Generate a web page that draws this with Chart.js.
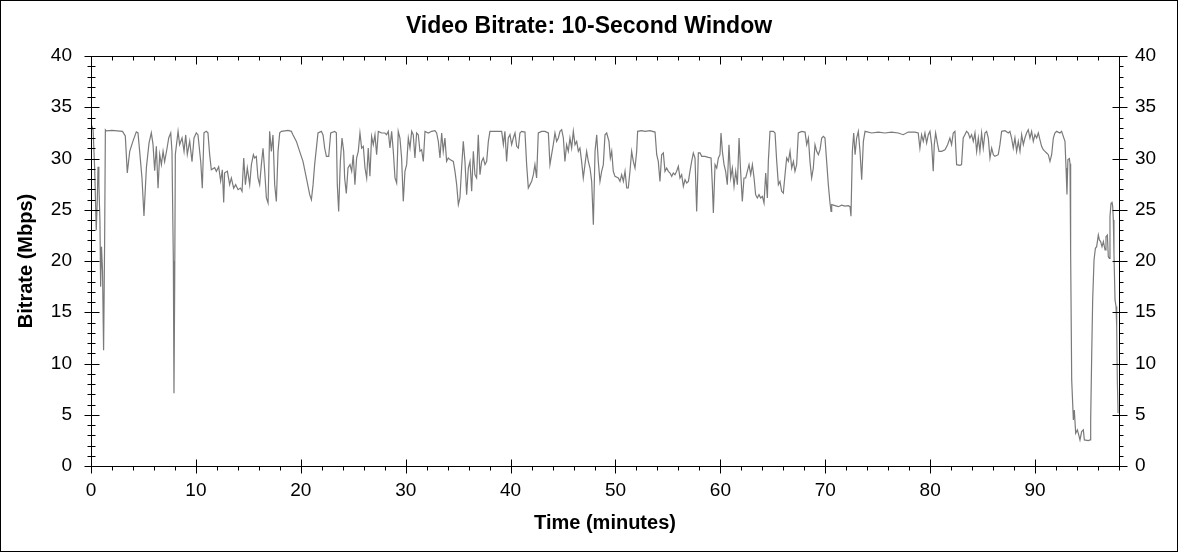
<!DOCTYPE html>
<html>
<head>
<meta charset="utf-8">
<title>Video Bitrate: 10-Second Window</title>
<script src="https://cdn.jsdelivr.net/npm/chart.js@4.4.0/dist/chart.umd.min.js"></script>
<style>
  html, body { margin: 0; padding: 0; background: #fff; }
  #wrap { position: relative; width: 1178px; height: 552px; }
</style>
</head>
<body>
<div id="wrap"><canvas id="bitrateChart" width="1178" height="552"></canvas></div>
<script>
// Time axis (minutes) and bitrate readings (Mbps)
const minutes = [
  0.0, 0.1, 0.2, 0.35, 0.5, 0.6, 0.67, 0.75, 0.85, 0.92, 1.0, 1.1, 1.2, 1.3, 1.37,
  1.46, 2.0, 2.5, 3.0, 3.27, 3.46, 3.69, 4.0, 4.32, 4.48, 4.64, 4.86, 5.05, 5.28, 5.53,
  5.75, 5.91, 6.07, 6.23, 6.39, 6.55, 6.71, 6.87, 7.02, 7.25, 7.41, 7.6, 7.72, 7.85, 7.91,
  7.98, 8.04, 8.3, 8.45, 8.68, 8.87, 9.03, 9.18, 9.41, 9.63, 9.82, 10.04, 10.2, 10.46, 10.61,
  10.77, 10.99, 11.15, 11.31, 11.47, 11.79, 11.95, 12.17, 12.36, 12.52, 12.65, 12.74, 13.0, 13.22, 13.38,
  13.6, 13.79, 14.02, 14.24, 14.4, 14.56, 14.72, 14.9, 15.13, 15.29, 15.48, 15.6, 15.76, 15.92, 16.08,
  16.24, 16.4, 16.56, 16.72, 16.88, 17.03, 17.19, 17.35, 17.51, 17.67, 17.83, 17.99, 18.15, 18.78, 19.1,
  19.26, 19.58, 19.89, 20.21, 20.53, 20.85, 21.01, 21.17, 21.32, 21.64, 21.96, 22.12, 22.28, 22.44, 22.66,
  22.85, 23.23, 23.39, 23.48, 23.61, 23.77, 23.93, 24.09, 24.18, 24.34, 24.5, 24.69, 24.85, 25.0, 25.16,
  25.32, 25.48, 25.64, 25.8, 25.96, 26.12, 26.28, 26.43, 26.59, 26.75, 26.91, 27.07, 27.23, 27.39, 27.71,
  28.02, 28.18, 28.34, 28.5, 28.66, 28.82, 28.98, 29.14, 29.29, 29.45, 29.61, 29.77, 29.93, 30.09, 30.25,
  30.41, 30.57, 30.72, 30.88, 31.04, 31.2, 31.36, 31.52, 31.68, 31.84, 32.16, 32.47, 32.79, 32.95, 33.11,
  33.27, 33.43, 33.58, 33.74, 33.9, 34.06, 34.22, 34.54, 34.7, 34.86, 35.02, 35.17, 35.33, 35.49, 35.65,
  35.81, 35.97, 36.13, 36.29, 36.45, 36.6, 36.76, 36.92, 37.08, 37.24, 37.4, 37.56, 37.72, 37.88, 38.03,
  38.51, 38.99, 39.15, 39.31, 39.46, 39.62, 39.78, 39.94, 40.1, 40.26, 40.42, 40.58, 40.74, 40.89, 41.05,
  41.37, 41.53, 41.69, 41.85, 42.01, 42.17, 42.32, 42.48, 42.64, 42.96, 43.28, 43.6, 43.75, 43.91, 44.07,
  44.23, 44.39, 44.55, 44.71, 44.87, 45.03, 45.18, 45.34, 45.5, 45.66, 45.82, 45.98, 46.14, 46.3, 46.46,
  46.61, 46.77, 46.93, 47.09, 47.25, 47.41, 47.57, 47.73, 47.89, 48.05, 48.21, 48.36, 48.52, 48.68, 48.84,
  49.0, 49.16, 49.38, 49.51, 49.64, 49.79, 49.95, 50.27, 50.43, 50.59, 50.75, 50.91, 51.07, 51.22, 51.38,
  51.54, 51.7, 51.86, 52.02, 52.11, 52.5, 52.81, 53.29, 53.77, 53.93, 54.08, 54.24, 54.4, 54.56, 54.72,
  54.88, 55.04, 55.2, 55.36, 55.51, 55.67, 55.83, 55.99, 56.15, 56.31, 56.47, 56.63, 56.79, 56.95, 57.1,
  57.26, 57.42, 57.58, 57.74, 57.9, 58.06, 58.22, 58.53, 58.85, 59.11, 59.23, 59.33, 59.49, 59.65, 59.81,
  59.96, 60.06, 60.19, 60.35, 60.5, 60.66, 60.82, 60.98, 61.14, 61.3, 61.46, 61.62, 61.78, 61.93, 62.09,
  62.25, 62.41, 62.57, 62.73, 62.89, 63.05, 63.21, 63.36, 63.52, 63.68, 63.84, 64.0, 64.16, 64.32, 64.48,
  64.57, 64.73, 65.05, 65.21, 65.37, 65.53, 65.68, 65.84, 66.0, 66.16, 66.32, 66.48, 66.64, 66.8, 66.96,
  67.11, 67.27, 67.43, 67.75, 68.07, 68.23, 68.39, 68.54, 68.7, 68.86, 69.02, 69.18, 69.34, 69.5, 69.66,
  69.82, 69.97, 70.13, 70.29, 70.45, 70.55, 70.61, 70.93, 71.25, 71.56, 71.88, 72.2, 72.36, 72.45, 72.58,
  72.71, 72.84, 72.99, 73.15, 73.31, 73.47, 73.63, 73.79, 74.42, 75.05, 75.69, 76.32, 76.96, 77.43, 77.91,
  78.55, 78.86, 79.02, 79.18, 79.34, 79.5, 79.66, 79.82, 79.98, 80.14, 80.29, 80.39, 80.52, 80.71, 80.84,
  81.09, 81.41, 81.66, 81.88, 82.04, 82.2, 82.36, 82.52, 82.84, 82.99, 83.15, 83.31, 83.47, 83.63, 83.79,
  83.95, 84.11, 84.27, 84.43, 84.59, 84.74, 84.9, 85.06, 85.22, 85.38, 85.54, 85.7, 85.86, 86.02, 86.17,
  86.49, 86.65, 86.81, 87.13, 87.45, 87.6, 87.76, 87.92, 88.08, 88.24, 88.4, 88.56, 88.72, 88.88, 89.03,
  89.19, 89.35, 89.51, 89.67, 89.83, 89.99, 90.15, 90.31, 90.46, 90.62, 90.78, 90.94, 91.1, 91.26, 91.42,
  91.58, 91.74, 91.89, 92.05, 92.37, 92.53, 92.69, 92.85, 92.95, 93.04, 93.13, 93.27, 93.33, 93.39, 93.49,
  93.65, 93.74, 93.87, 94.03, 94.16, 94.28, 94.44, 94.6, 94.7, 95.08, 95.24, 95.3, 95.4, 95.49, 95.62,
  95.75, 95.87, 96.03, 96.13, 96.25, 96.38, 96.51, 96.67, 96.76, 96.89, 96.98, 97.08, 97.14, 97.24, 97.33,
  97.4, 97.46, 97.52, 97.62, 97.72, 97.78, 97.84, 97.91
];

const mbps = [
  32.6, 33.1, 32.8, 29.0, 23.0, 26.0, 29.2, 27.5, 24.0, 17.5, 21.4, 19.0, 11.3, 22.0, 32.8,
  32.7, 32.75, 32.7, 32.65, 32.2, 28.6, 30.7, 31.7, 32.6, 32.5, 30.7, 28.1, 24.4, 29.1, 31.5,
  32.5, 31.4, 28.8, 31.2, 27.1, 30.4, 29.4, 30.7, 29.7, 31.0, 32.0, 32.5, 30.7, 20.0, 7.1,
  18.0, 30.4, 32.65, 31.35, 32.0, 30.7, 32.3, 30.4, 31.7, 29.7, 32.0, 32.5, 32.3, 29.7, 27.1,
  32.5, 32.65, 32.5, 30.4, 28.9, 29.1, 28.75, 29.2, 27.8, 28.9, 25.7, 28.6, 28.75, 27.45, 28.1,
  27.1, 27.45, 26.96, 27.12, 26.8, 30.05, 27.45, 29.07, 27.45, 29.4, 30.37, 30.05, 30.2, 28.1, 27.45,
  29.4, 31.0, 28.75, 26.15, 25.66, 32.65, 30.7, 32.3, 27.45, 25.8, 30.7, 32.5, 32.65, 32.75, 32.65,
  32.3, 31.67, 30.7, 29.72, 28.1, 26.47, 25.98, 27.45, 29.4, 32.5, 32.65, 32.3, 31.0, 30.2, 30.2,
  32.5, 32.65, 32.5, 27.45, 24.84, 29.72, 32.0, 30.7, 28.1, 26.6, 29.07, 29.4, 28.75, 30.37, 27.45,
  30.05, 30.7, 32.49, 31.02, 31.19, 29.07, 28.1, 31.02, 28.26, 32.16, 31.35, 32.32, 30.37, 32.65, 32.49,
  32.49, 32.32, 32.65, 31.02, 32.65, 30.7, 28.1, 27.61, 32.65, 32.0, 30.05, 25.82, 28.75, 29.4, 32.0,
  31.02, 32.65, 32.32, 30.05, 32.49, 32.32, 30.7, 30.86, 29.72, 32.65, 32.49, 32.65, 32.71, 32.49, 31.67,
  30.05, 32.49, 30.7, 32.0, 29.72, 30.05, 29.89, 29.72, 28.75, 27.45, 25.5, 26.15, 29.07, 31.67, 29.72,
  26.47, 29.07, 29.72, 26.8, 30.7, 28.42, 28.1, 32.32, 28.42, 29.72, 30.05, 29.4, 29.72, 31.67, 32.65,
  32.65, 32.65, 32.65, 31.35, 32.65, 29.72, 32.0, 32.32, 31.35, 32.0, 32.49, 31.19, 31.02, 32.49, 32.65,
  32.58, 29.4, 27.12, 27.45, 27.77, 28.42, 29.4, 28.1, 32.49, 32.65, 32.65, 32.49, 29.4, 30.37, 31.35,
  32.49, 31.67, 32.0, 32.65, 32.81, 32.0, 29.72, 31.35, 30.7, 32.0, 31.02, 32.65, 31.35, 31.67, 30.7,
  31.02, 29.72, 28.1, 29.4, 30.7, 29.72, 29.07, 27.77, 23.54, 30.7, 32.32, 29.72, 27.77, 28.75, 29.4,
  32.32, 32.49, 31.67, 30.05, 30.7, 28.75, 28.26, 28.1, 27.77, 28.42, 27.77, 28.75, 27.12, 27.12, 28.75,
  30.7, 29.72, 29.07, 30.7, 32.65, 32.71, 32.65, 32.71, 32.58, 30.37, 29.72, 27.77, 30.37, 30.54, 28.75,
  29.07, 28.75, 28.58, 28.26, 28.58, 28.42, 28.75, 29.23, 28.1, 28.42, 27.28, 27.93, 27.61, 27.77, 28.75,
  29.72, 30.54, 30.05, 24.84, 30.54, 30.54, 30.21, 30.21, 30.11, 30.05, 27.45, 24.68, 29.4, 29.07, 30.05,
  30.37, 32.49, 30.7, 29.4, 28.75, 27.45, 31.35, 28.1, 29.07, 27.28, 28.75, 27.45, 32.0, 28.75, 25.82,
  28.1, 28.1, 28.75, 29.4, 28.42, 29.4, 28.1, 26.47, 26.15, 26.47, 26.15, 26.31, 25.66, 28.58, 26.15,
  29.72, 32.65, 32.65, 32.49, 29.72, 27.45, 27.77, 26.8, 26.63, 28.42, 30.05, 29.72, 30.7, 29.07, 29.72,
  28.75, 29.4, 32.49, 32.65, 32.58, 31.35, 32.0, 29.72, 28.1, 29.07, 31.35, 30.7, 30.37, 30.86, 32.0,
  32.16, 32.0, 29.72, 27.45, 25.66, 24.84, 25.5, 25.4, 25.3, 25.45, 25.35, 25.4, 25.3, 24.36, 30.7,
  32.49, 30.37, 32.0, 32.65, 30.7, 27.93, 31.67, 32.65, 32.49, 32.58, 32.49, 32.58, 32.49, 32.32, 32.58,
  32.58, 32.49, 31.02, 32.32, 31.67, 32.49, 31.51, 32.32, 32.65, 31.35, 28.75, 31.35, 32.49, 31.35, 30.7,
  30.7, 30.86, 31.35, 32.0, 31.35, 32.49, 32.65, 29.4, 29.33, 29.4, 32.0, 32.32, 32.65, 32.49, 32.0,
  32.32, 31.67, 32.49, 30.7, 32.0, 30.7, 32.49, 31.02, 32.49, 32.65, 32.0, 30.05, 31.02, 30.37, 30.21,
  30.37, 31.35, 32.65, 32.71, 32.49, 32.65, 32.0, 31.02, 32.0, 30.7, 31.67, 30.7, 32.32, 31.35, 32.0,
  32.49, 32.81, 32.0, 32.65, 31.67, 32.32, 32.0, 32.49, 31.84, 31.19, 30.86, 30.7, 30.54, 30.37, 29.72,
  30.37, 32.0, 32.49, 32.65, 32.49, 32.65, 32.16, 31.67, 29.07, 26.5, 29.9, 30.0, 29.5, 20.75, 8.4,
  4.49, 5.47, 3.2, 3.52, 3.03, 2.54, 3.35, 3.52, 2.54, 2.48, 2.54, 4.49, 10.98, 16.2, 20.1,
  21.24, 21.4, 22.54, 22.05, 21.89, 21.4, 21.89, 21.08, 22.38, 22.54, 20.43, 20.26, 24.33, 25.63, 25.79,
  25.3, 24.0, 20.75, 16.2, 15.55, 13.6, 8.4, 5.14
];

// Axis ticks
const xTickValues = [0, 10, 20, 30, 40, 50, 60, 70, 80, 90];
const yTickValues = [0, 5, 10, 15, 20, 25, 30, 35, 40];
const xMinorStep = 2;
const yMinorStep = 1;

const fontFamily = '"Liberation Sans", Arial, sans-serif';

// Outer frame, plot box and the tick marks on all four sides
const frameTicks = {
    id: 'frameTicks',
    afterDraw(chart) {
        const ctx = chart.ctx;
        const area = chart.chartArea;
        const xs = chart.scales.x;
        const ys = chart.scales.y;
        const L = Math.round(area.left) + 0.5;
        const R = Math.round(area.right) + 0.5;
        const T = Math.round(area.top) + 0.5;
        const B = Math.round(area.bottom) + 0.5;

        ctx.save();
        ctx.strokeStyle = '#000';
        ctx.lineWidth = 1;
        ctx.strokeRect(0.5, 0.5, chart.width - 1, chart.height - 1);
        ctx.strokeRect(L, T, R - L, B - T);

        ctx.beginPath();
        for (let v = 0; v <= xs.max; v += xMinorStep) {
            const px = Math.round(xs.getPixelForValue(v)) + 0.5;
            const major = xTickValues.includes(v);
            ctx.moveTo(px, major ? B - 7 : B);
            ctx.lineTo(px, major ? B + 7 : B + 4);
            ctx.moveTo(px, T);
            ctx.lineTo(px, T + (major ? 8 : 4));
        }
        for (let v = 0; v <= ys.max; v += yMinorStep) {
            const py = Math.round(ys.getPixelForValue(v)) + 0.5;
            const major = yTickValues.includes(v);
            ctx.moveTo(major ? L - 7 : L - 4, py);
            ctx.lineTo(major ? L + 8 : L + 4, py);
            ctx.moveTo(major ? R - 7 : R, py);
            ctx.lineTo(major ? R + 8 : R + 4, py);
        }
        ctx.stroke();
        ctx.restore();
    }
};

const tickFont = { family: fontFamily, size: 19 };
const titleFont = { family: fontFamily, size: 20, weight: 'bold' };

new Chart(document.getElementById('bitrateChart'), {
    type: 'line',
    data: {
        datasets: [{
            data: minutes.map((t, i) => ({ x: t, y: mbps[i] })),
            borderColor: '#7a7a7a',
            borderWidth: 1.2,
            pointRadius: 0,
            tension: 0,
            fill: false,
            xAxisID: 'x',
            yAxisID: 'y'
        }]
    },
    options: {
        responsive: false,
        animation: false,
        devicePixelRatio: 1,
        layout: { padding: 0 },
        plugins: {
            legend: { display: false },
            tooltip: { enabled: false },
            title: {
                display: true,
                text: 'Video Bitrate: 10-Second Window',
                color: '#000',
                font: { family: fontFamily, size: 23, weight: 'bold' },
                padding: { top: 13, bottom: 15.4 }
            }
        },
        scales: {
            x: {
                type: 'linear',
                position: 'bottom',
                min: 0,
                max: 98,
                afterBuildTicks: s => { s.ticks = xTickValues.map(v => ({ value: v })); },
                afterFit: s => { s.height = 86; },
                grid: { display: false, drawTicks: false },
                border: { display: false },
                ticks: { color: '#000', font: tickFont, padding: 13, maxRotation: 0, autoSkip: false },
                title: { display: true, text: 'Time (minutes)', color: '#000', font: titleFont, padding: { top: 0, bottom: 17 } }
            },
            y: {
                type: 'linear',
                position: 'left',
                min: 0,
                max: 40,
                afterBuildTicks: s => { s.ticks = yTickValues.map(v => ({ value: v })); },
                afterFit: s => { s.width = 91; },
                grid: { display: false, drawTicks: false },
                border: { display: false },
                ticks: { color: '#000', font: tickFont, padding: 19 },
                title: { display: true, text: 'Bitrate (Mbps)', color: '#000', font: titleFont, padding: { top: 14, bottom: 0 } }
            },
            y2: {
                type: 'linear',
                position: 'right',
                min: 0,
                max: 40,
                afterBuildTicks: s => { s.ticks = yTickValues.map(v => ({ value: v })); },
                afterFit: s => { s.width = 59; },
                grid: { display: false, drawTicks: false },
                border: { display: false },
                ticks: { color: '#000', font: tickFont, padding: 16 }
            }
        }
    },
    plugins: [frameTicks]
});
</script>
</body>
</html>
